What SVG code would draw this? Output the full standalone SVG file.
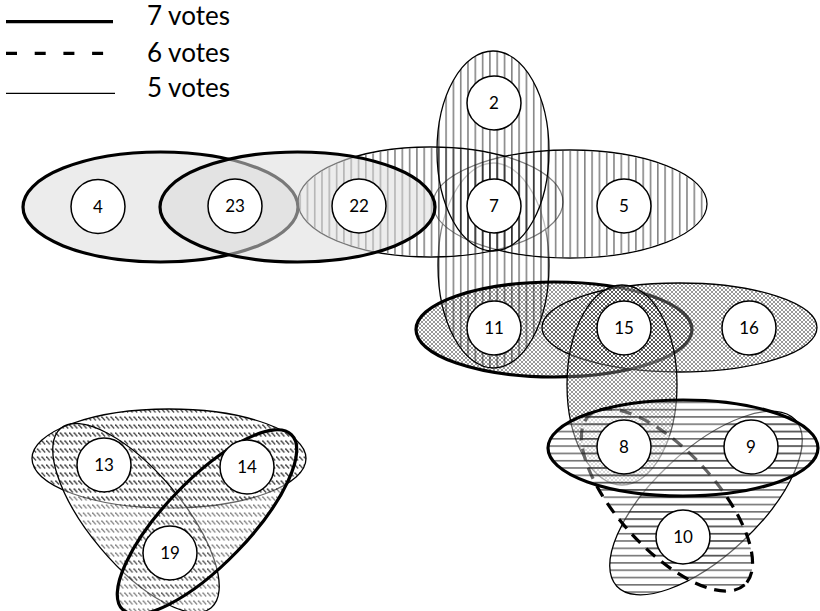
<svg xmlns="http://www.w3.org/2000/svg" xmlns:xlink="http://www.w3.org/1999/xlink" width="820" height="611" viewBox="0 0 820 611">
<style>
  text { font-family: Lato, "Open Sans", "Liberation Sans", sans-serif; fill: #000; }
  .legend text { font-size: 26px; }
  .node circle { fill: #fff; stroke: #000; stroke-width: 1.5; }
  .node text { font-size: 17px; text-anchor: middle; }
  .thin { fill: none; stroke: #000; stroke-width: 1.3; }
  .thick { fill: none; stroke: #000; stroke-width: 3.2; }
  .dashed { fill: none; stroke: #000; stroke-width: 3.2; stroke-dasharray: 12 8; }
  .grey { fill: #dcdcdc; fill-opacity: .55; stroke: none; }
  .w3 { fill: #fff; fill-opacity: .3; stroke: none; }
  .w4 { fill: #fff; fill-opacity: .4; stroke: none; }
  .w5 { fill: #fff; fill-opacity: .5; stroke: none; }
  .vs { fill: url(#vs); fill-opacity: .48; stroke: none; }
  .hs { fill: url(#hs); fill-opacity: .55; stroke: none; }
  .xh { fill: url(#xh); fill-opacity: .4; stroke: none; }
  .dd { fill: url(#dd); fill-opacity: .45; stroke: none; }
  .ddk { fill: url(#dd); fill-opacity: .7; stroke: none; }
</style>
<defs>
  <!-- fill textures -->
  <pattern id="vs" width="7.3" height="8" patternUnits="userSpaceOnUse"><rect width="1.6" height="8" fill="#000"/></pattern>
  <pattern id="hs" width="8" height="7.3" patternUnits="userSpaceOnUse"><rect width="8" height="1.6" fill="#000"/></pattern>
  <pattern id="xh" width="4" height="4" patternUnits="userSpaceOnUse"><path d="M-1,-1L5,5M5,-1L-1,5" stroke="#000" stroke-width="1"/></pattern>
  <pattern id="dd" width="4.6" height="8" patternUnits="userSpaceOnUse"><path d="M0.3,0.5L3.8,4.5" stroke="#000" stroke-width="1.3"/></pattern>

  <!-- cluster outlines (tilted ones as arc paths so textures stay upright) -->
  <ellipse id="e4_23" cx="160.5" cy="207" rx="137.5" ry="55"/>
  <ellipse id="e23_22" cx="297.5" cy="207" rx="137.5" ry="55"/>
  <ellipse id="e22_7" cx="430.5" cy="202" rx="132.5" ry="55"/>
  <ellipse id="e22_7i" cx="430.5" cy="202" rx="131.7" ry="54.2"/>
  <ellipse id="e7_5" cx="570" cy="204" rx="137" ry="54"/>
  <ellipse id="e7_5i" cx="570" cy="204" rx="136.2" ry="53.2"/>
  <ellipse id="e2_7" cx="493" cy="151" rx="56" ry="100"/>
  <ellipse id="e7_11" cx="493.5" cy="265.5" rx="55.5" ry="102.5"/>
  <ellipse id="e11_15" cx="554" cy="329.5" rx="138" ry="47.5"/>
  <ellipse id="e15_16" cx="679.5" cy="327.5" rx="137.5" ry="44.5"/>
  <ellipse id="e15_8" cx="622" cy="385" rx="55" ry="100"/>
  <path id="e9_10" d="M795.23,419.8A122,53 -43 1 1 616.77,586.2A122,53 -43 1 1 795.23,419.8Z"/>
  <path id="e8_10" d="M744.54,584.93A115,49 47.6 1 1 589.46,415.07A115,49 47.6 1 1 744.54,584.93Z"/>
  <ellipse id="e8_9" cx="683" cy="448" rx="135" ry="48"/>
  <ellipse id="e13_14" cx="169" cy="458.5" rx="137" ry="49.5"/>
  <path id="e13_19" d="M211.21,607.63A117,46.5 50 1 1 60.79,428.37A117,46.5 50 1 1 211.21,607.63Z"/>
  <path id="e14_19" d="M291.4,434.6A121.5,42 -46 1 1 122.6,609.4A121.5,42 -46 1 1 291.4,434.6Z"/>
</defs>

<rect width="820" height="611" fill="#fff"/>

<!-- vote clusters, painted back to front -->
<g id="clusters">
  <use xlink:href="#e11_15" class="w3"/><use xlink:href="#e11_15" class="xh"/><use xlink:href="#e11_15" class="thick"/>
  <use xlink:href="#e15_16" class="w3"/><use xlink:href="#e15_16" class="xh"/><use xlink:href="#e15_16" class="thin"/>

  <use xlink:href="#e4_23" class="grey"/><use xlink:href="#e4_23" class="thick"/>

  <use xlink:href="#e7_11" class="vs"/><use xlink:href="#e7_11" class="thin"/>
  <use xlink:href="#e22_7" class="thin"/><use xlink:href="#e7_5" class="thin"/>
  <use xlink:href="#e22_7i" class="w5"/><use xlink:href="#e22_7i" class="vs"/>
  <use xlink:href="#e7_5i" class="w5"/><use xlink:href="#e7_5i" class="vs"/>
  <use xlink:href="#e2_7" class="vs"/><use xlink:href="#e2_7" class="thin"/>

  <use xlink:href="#e23_22" class="grey"/><use xlink:href="#e23_22" class="thick"/>

  <use xlink:href="#e15_8" class="w3"/><use xlink:href="#e15_8" class="xh"/><use xlink:href="#e15_8" class="thin"/>

  <use xlink:href="#e9_10" class="w3"/><use xlink:href="#e9_10" class="hs"/><use xlink:href="#e9_10" class="thin"/>
  <use xlink:href="#e8_10" class="w4"/><use xlink:href="#e8_10" class="hs"/><use xlink:href="#e8_10" class="dashed"/>
  <use xlink:href="#e8_9" class="w4"/><use xlink:href="#e8_9" class="hs"/><use xlink:href="#e8_9" class="thick"/>

  <use xlink:href="#e13_14" class="ddk"/><use xlink:href="#e13_14" class="thin"/>
  <use xlink:href="#e13_19" class="w4"/><use xlink:href="#e13_19" class="dd"/><use xlink:href="#e13_19" class="thin"/>
  <use xlink:href="#e14_19" class="w4"/><use xlink:href="#e14_19" class="dd"/><use xlink:href="#e14_19" class="thick"/>
</g>

<!-- numbered items -->
<g id="n2" class="node"><circle cx="494" cy="103" r="27"/><text x="494" y="109">2</text></g>
<g id="n4" class="node"><circle cx="98" cy="206.5" r="27"/><text x="98" y="212.5">4</text></g>
<g id="n23" class="node"><circle cx="235" cy="206" r="27"/><text x="235" y="212">23</text></g>
<g id="n22" class="node"><circle cx="359" cy="206" r="27"/><text x="359" y="212">22</text></g>
<g id="n7" class="node"><circle cx="494" cy="206" r="27"/><text x="494" y="212">7</text></g>
<g id="n5" class="node"><circle cx="624" cy="206" r="27"/><text x="624" y="212">5</text></g>
<g id="n11" class="node"><circle cx="494" cy="328" r="27"/><text x="494" y="334">11</text></g>
<g id="n15" class="node"><circle cx="624" cy="328" r="27"/><text x="624" y="334">15</text></g>
<g id="n16" class="node"><circle cx="749" cy="328" r="27"/><text x="749" y="334">16</text></g>
<g id="n8" class="node"><circle cx="624" cy="447" r="27"/><text x="624" y="453">8</text></g>
<g id="n9" class="node"><circle cx="751" cy="447" r="27"/><text x="751" y="453">9</text></g>
<g id="n10" class="node"><circle cx="683" cy="537" r="27"/><text x="683" y="543">10</text></g>
<g id="n13" class="node"><circle cx="104" cy="465" r="27"/><text x="104" y="471">13</text></g>
<g id="n14" class="node"><circle cx="247" cy="467" r="27"/><text x="247" y="473">14</text></g>
<g id="n19" class="node"><circle cx="170" cy="553" r="27"/><text x="170" y="559">19</text></g>

<!-- line-style key -->
<g id="legend" class="legend">
  <line x1="6" y1="21.7" x2="113" y2="21.7" stroke="#000" stroke-width="3.3"/>
  <line x1="6" y1="53.3" x2="104" y2="53.3" stroke="#000" stroke-width="3.3" stroke-dasharray="11 17.7"/>
  <line x1="6" y1="93.3" x2="115" y2="93.3" stroke="#000" stroke-width="1.3"/>
  <text x="147" y="25">7 votes</text>
  <text x="147" y="61.7">6 votes</text>
  <text x="147" y="96.7">5 votes</text>
</g>
</svg>
